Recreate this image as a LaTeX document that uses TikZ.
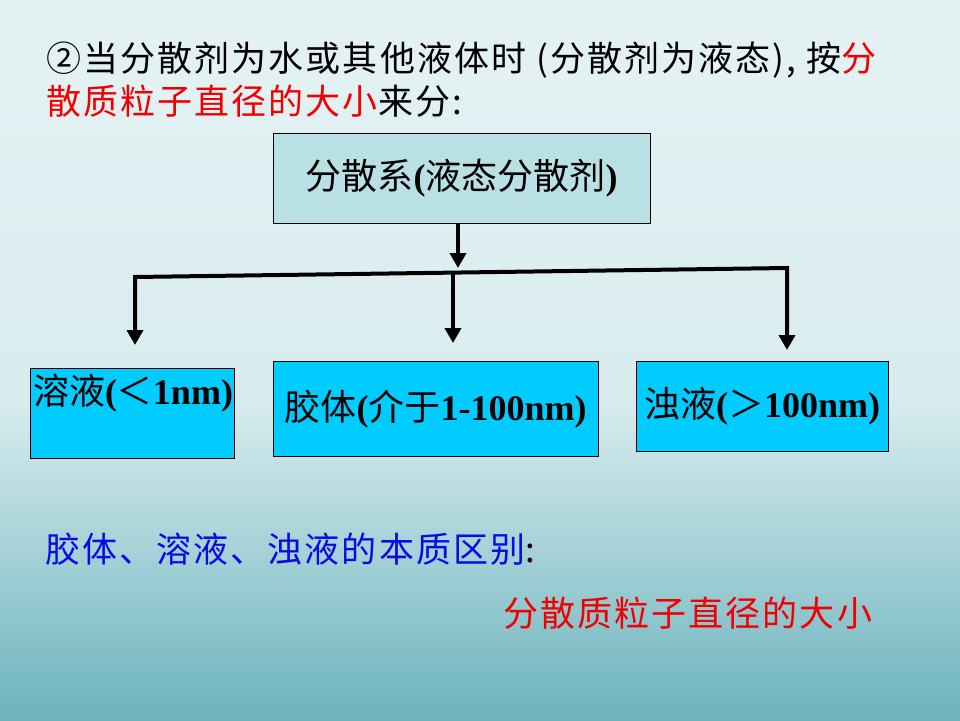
\documentclass[tikz,border=0pt]{standalone}
\usepackage{fontspec}
\setmainfont{Noto Sans CJK SC}
\newfontfamily\spacedFont[LetterSpace=6]{Noto Sans CJK SC}
\newfontfamily\latinFont{Liberation Serif}
\usetikzlibrary{arrows.meta}
\definecolor{slideTop}{HTML}{E5F2F3}
\definecolor{slideMid}{HTML}{D8ECEE}
\definecolor{slideBottom}{HTML}{6DB3BE}
\definecolor{headBoxColor}{HTML}{B9E0E4}
\definecolor{classBoxColor}{HTML}{00CCFF}
\definecolor{noteBlue}{HTML}{0A0AE6}
\definecolor{keyRed}{HTML}{F00000}
\tikzstyle{slide} = [x = 1pt, y = -1pt]
\tikzstyle{headBox} = [draw=black, fill=headBoxColor, minimum width=377pt, minimum height=90pt, inner sep=0pt, font=\fontsize{36}{40}\selectfont]
\tikzstyle{classBox} = [draw=black, fill=classBoxColor, inner sep=0pt, anchor=north west, font=\fontsize{36}{40}\selectfont]
\tikzstyle{classText} = [inner sep=0pt, font=\fontsize{36}{40}\selectfont]
\tikzstyle{slideText} = [inner sep=0pt, anchor=base west, font=\spacedFont\fontsize{35}{40}\selectfont]
\tikzstyle{branchArrow} = [line width=4pt, line join=miter, {Triangle[width=16pt,length=15pt]}-{Triangle[width=16pt,length=15pt]}]
\tikzstyle{stemArrow} = [line width=4pt, -{Triangle[width=16pt,length=15pt]}]
\newcommand{\bPart}[1]{{\latinFont\bfseries #1}}

\begin{document}
\begin{tikzpicture}[slide]
\useasboundingbox (0,0) rectangle (960,720);
\shade[top color=slideTop, bottom color=slideMid] (0,0) rectangle (960,400);
\shade[top color=slideMid, bottom color=slideBottom] (0,399) rectangle (960,720);
\node[slideText] (introLineOne) at (46,71) {②当分散剂为水或其他液体时 (分散剂为液态), 按\textcolor{keyRed}{分}};
\node[slideText] (introLineTwo) at (46,114) {\textcolor{keyRed}{散质粒子直径的大小}来分:};
\node[headBox] (dispersionBox) at (461.5,178) {分散系\bPart{(}液态分散剂\bPart{)}};
\node[classBox, minimum width=204pt, minimum height=90pt] (solutionBox) at (30,368) {};
\node[classText] (solutionText) at (133,393) {溶液\bPart{(}＜\bPart{1nm)}};
\node[classBox, minimum width=325pt, minimum height=95pt] (colloidBox) at (273,361) {胶体\bPart{(}介于\bPart{1-100nm)}};
\node[classBox, minimum width=252pt, minimum height=90pt] (suspensionBox) at (636,361) {浊液\bPart{(}＞\bPart{100nm)}};
\coordinate (branchTop) at (458,268);
\coordinate (leftCorner) at (135,277);
\coordinate (middleJoint) at (453,271);
\coordinate (rightCorner) at (787,268);
\coordinate (leftEnd) at (135,345);
\coordinate (middleEnd) at (453,343);
\coordinate (rightEnd) at (787,350);
\draw[stemArrow] (dispersionBox.south -| branchTop) -- (branchTop);
\draw[branchArrow] (leftEnd) -- (leftCorner) -- (rightCorner) -- (rightEnd);
\draw[stemArrow] (middleJoint) -- (middleEnd);
\node[slideText, text=noteBlue] (essenceNote) at (45,562) {胶体、溶液、浊液的本质区别\textcolor{black}{:}};
\node[slideText, text=keyRed] (essenceAnswer) at (503,626) {分散质粒子直径的大小};
\end{tikzpicture}
\end{document}
